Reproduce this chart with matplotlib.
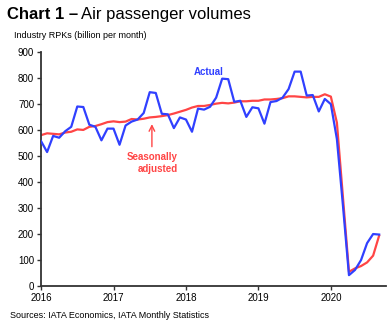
import matplotlib
matplotlib.use('Agg')
import matplotlib.pyplot as plt

plt.rcParams['font.family'] = ['Liberation Sans', 'DejaVu Sans']

# monthly RPKs, Jan 2016 - Sep 2020 (billion per month)
actual = [557, 515, 577, 570, 595, 612, 690, 688, 620, 612, 560, 605,
          605, 543, 617, 632, 640, 665, 745, 742, 662, 660, 607, 648,
          640, 593, 682, 678, 689, 724, 797, 795, 708, 712, 650, 687,
          683, 624, 707, 711, 724, 757, 824, 824, 732, 734, 671, 719,
          699, 565, 310, 42, 62, 100, 165, 200, 198]
seasonal = [580, 587, 585, 583, 590, 593, 602, 600, 612, 615, 622, 630,
            633, 630, 632, 642, 640, 643, 648, 650, 653, 657, 663, 670,
            677, 686, 692, 692, 696, 701, 704, 702, 705, 710, 710, 712,
            712, 717, 717, 719, 722, 729, 729, 727, 725, 727, 727, 737,
            728, 628, 342, 55, 68, 77, 91, 117, 194]
months = [2016 + i / 12 for i in range(len(actual))]
years = [2016, 2017, 2018, 2019, 2020]

blue = '#3040ff'
red = '#ff4545'

fig = plt.figure(figsize=(3.91, 3.24), dpi=100)
ax = fig.add_axes([0.105, 0.117, 0.882, 0.723])

ax.plot(months, seasonal, color=red, lw=1.6, zorder=2)
ax.plot(months, actual, color=blue, lw=1.6, zorder=3)

ax.set_xlim(2016, 2020.76)
ax.set_ylim(0, 900)
ax.set_xticks(years)
ax.set_yticks(range(0, 901, 100))
ax.tick_params(labelsize=7, length=3, width=1, color='#333333', pad=2)

for s in ['top', 'right']:
    ax.spines[s].set_visible(False)
for s in ['left', 'bottom']:
    ax.spines[s].set_linewidth(1.3)
    ax.spines[s].set_color('#333333')

ax.text(2018.32, 812, 'Actual', color=blue, fontsize=7, fontweight='bold', ha='center')
ax.text(2017.89, 517, 'Seasonally\nadjusted', color=red, fontsize=7, fontweight='bold',
        ha='right', va='top', linespacing=1.3)
ax.annotate('', xy=(2017.53, 633), xytext=(2017.53, 525),
            arrowprops=dict(arrowstyle='->', color=red, lw=1))

fig.text(0.018, 0.955, 'Chart 1 \u2013', fontsize=12, fontweight='bold', va='center')
fig.text(0.208, 0.955, 'Air passenger volumes', fontsize=12, va='center')
fig.text(0.035, 0.89, 'Industry RPKs (billion per month)', fontsize=6.5, va='center')
fig.text(0.025, 0.025, 'Sources: IATA Economics, IATA Monthly Statistics', fontsize=6.5, va='center')

fig.savefig('out.png', dpi=100)
